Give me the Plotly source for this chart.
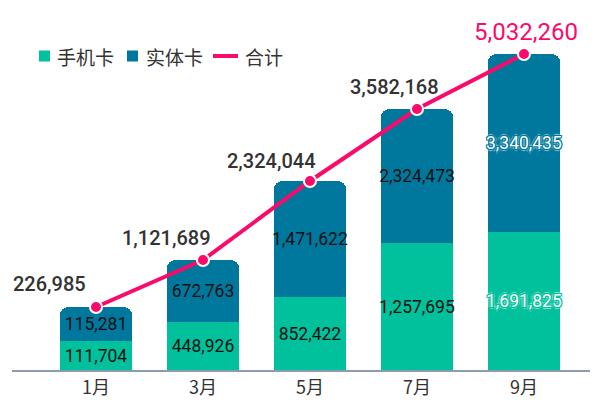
import plotly.graph_objects as go

# 月份
months = ["1月", "3月", "5月", "7月", "9月"]

# 标签显示的数值
mobile_values = [111704, 448926, 852422, 1257695, 1691825]
physical_values = [115281, 672763, 1471622, 2324473, 3340435]
total_values = [226985, 1121689, 2324044, 3582168, 5032260]

# 参考图里柱子高度并不按数值比例绘制，这里按图上量出的柱高（轴单位）绘制
mobile_heights = [29, 48, 73, 127, 138]
physical_heights = [34, 62, 116, 134, 178]
total_heights = [m + p for m, p in zip(mobile_heights, physical_heights)]

legend_names = ["手机卡", "实体卡", "合计"]

C_MOBILE = "#00C19B"
C_PHYSICAL = "#00789E"
C_TOTAL = "#FA0A6A"
FONT_NUM = "Roboto"
FONT_CJK = "Noto Sans CJK SC"
INNER_SIZE = 17.5

W, H = 603, 413
M = dict(l=12, r=13, t=20, b=43)


def fmt(v):
    return f"{v:,}"


def px_x(px):
    return (px - M["l"]) / (W - M["l"] - M["r"])


def px_y(py):
    return (H - M["b"] - py) / (H - M["t"] - M["b"])


def halo(c):
    # 白字 + 柱色描边 + 外圈淡白边
    d1 = [(1, 0), (-1, 0), (0, 1), (0, -1), (1, 1), (-1, -1), (1, -1), (-1, 1)]
    d2 = [(2, 0), (-2, 0), (0, 2), (0, -2)]
    parts = [f"{a}px {b}px 0 {c}" for a, b in d1]
    parts += [f"{a}px {b}px 1px rgba(255,255,255,0.55)" for a, b in d2]
    return ", ".join(parts)


def inner_font(base_color):
    # 最后一根柱子的标签用强调样式
    n = len(months)
    return dict(
        family=FONT_NUM,
        size=INNER_SIZE,
        color=["#111111"] * (n - 1) + ["#FFFFFF"],
        shadow=["none"] * (n - 1) + [halo(base_color)],
    )


fig = go.Figure()

fig.add_trace(go.Bar(
    x=months,
    y=mobile_heights,
    name=legend_names[0],
    marker=dict(color=C_MOBILE, line=dict(width=0)),
    text=[fmt(v) for v in mobile_values],
    textposition="inside",
    insidetextanchor="middle",
    textangle=0,
    constraintext="none",
    textfont=inner_font(C_MOBILE),
    hoverinfo="skip",
))

fig.add_trace(go.Bar(
    x=months,
    y=physical_heights,
    name=legend_names[1],
    marker=dict(color=C_PHYSICAL, line=dict(width=0)),
    text=[fmt(v) for v in physical_values],
    textposition="inside",
    insidetextanchor="middle",
    textangle=0,
    constraintext="none",
    textfont=inner_font(C_PHYSICAL),
    hoverinfo="skip",
))

fig.add_trace(go.Scatter(
    x=months,
    y=total_heights,
    name=legend_names[2],
    mode="lines+markers",
    line=dict(color=C_TOTAL, width=4),
    marker=dict(size=12, color=C_TOTAL, line=dict(color="white", width=2)),
    hoverinfo="skip",
))

# 合计标签（折线上方）
label_xshift = [-46, -36, -38, -22, 2]
label_yshift = [23, 22, 20, 22, 22]
for i, (m, h, v) in enumerate(zip(months, total_heights, total_values)):
    last = i == len(months) - 1
    fig.add_annotation(
        x=m, y=h, xref="x", yref="y",
        text=fmt(v),
        showarrow=False,
        xshift=label_xshift[i],
        yshift=label_yshift[i],
        font=dict(
            family=FONT_NUM,
            size=24 if last else 20,
            color=C_TOTAL if last else "#333333",
            weight=400 if last else 500,
        ),
    )

# 手工绘制图例（紧凑排列）
leg_y = 56
leg_items = [(39, "square", C_MOBILE), (127, "square", C_PHYSICAL), (213, "line", C_TOTAL)]
leg_text_x = [55, 144, 243]
for (x0, kind, col), tx, name in zip(leg_items, leg_text_x, legend_names):
    if kind == "square":
        fig.add_shape(
            type="rect", xref="paper", yref="paper",
            x0=px_x(x0), x1=px_x(x0 + 11),
            y0=px_y(leg_y - 5.5), y1=px_y(leg_y + 5.5),
            fillcolor=col, line=dict(width=0),
        )
    else:
        fig.add_shape(
            type="line", xref="paper", yref="paper",
            x0=px_x(x0), x1=px_x(x0 + 25),
            y0=px_y(leg_y), y1=px_y(leg_y),
            line=dict(color=col, width=4),
        )
    fig.add_annotation(
        x=px_x(tx), y=px_y(leg_y), xref="paper", yref="paper",
        xanchor="left", yanchor="middle",
        text=name, showarrow=False,
        font=dict(family=FONT_CJK, size=19, color="#333333"),
    )

fig.update_layout(
    width=W,
    height=H,
    barmode="stack",
    bargap=0.32,
    barcornerradius=9,
    uniformtext=dict(minsize=INNER_SIZE, mode="show"),
    plot_bgcolor="white",
    paper_bgcolor="white",
    margin=M,
    showlegend=False,
    xaxis=dict(
        range=[-0.785, 4.617],
        showline=True,
        linecolor="#8C9BB0",
        linewidth=2,
        ticks="",
        showgrid=False,
        tickfont=dict(family=FONT_CJK, size=18, color="#333333"),
    ),
    yaxis=dict(
        range=[0, H - M["t"] - M["b"]],
        visible=False,
        showgrid=False,
        zeroline=False,
    ),
)

fig.write_html(
    "out.html",
    config={"displayModeBar": False},
    post_script="document.body.style.margin='0';",
)
